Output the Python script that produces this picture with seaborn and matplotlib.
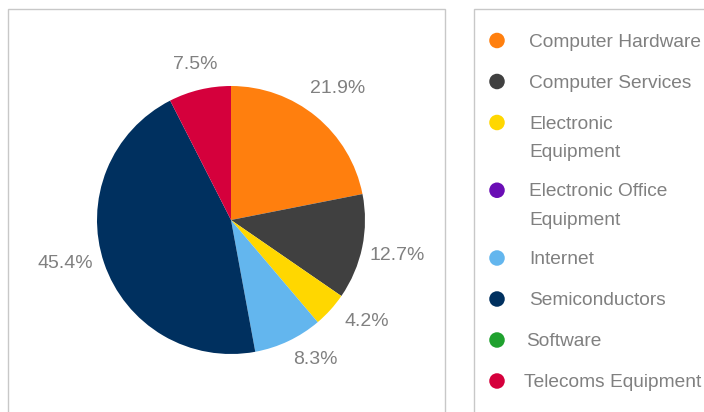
import matplotlib
matplotlib.use("Agg")
import matplotlib.pyplot as plt
from matplotlib.patches import Rectangle
import seaborn as sns

# Sector breakdown (% of total)
sectors = [
    "Computer Hardware",
    "Computer Services",
    "Electronic Equipment",
    "Electronic Office Equipment",
    "Internet",
    "Semiconductors",
    "Software",
    "Telecoms Equipment",
]
legend_labels = [
    ["Computer Hardware"],
    ["Computer Services"],
    ["Electronic", "Equipment"],
    ["Electronic Office", "Equipment"],
    ["Internet"],
    ["Semiconductors"],
    ["Software"],
    ["Telecoms Equipment"],
]
shares = [21.9, 12.7, 4.2, 0.0, 8.3, 45.4, 0.0, 7.5]
sector_colors = ["#FF7F0E", "#404040", "#FFD700", "#6A0DB5",
                 "#63B6EE", "#00305F", "#1FA12E", "#D5003C"]

# Best-fit nudges for the percentage labels (pixels, right / down)
label_nudge = [(-1, -0.5), (0, 0.5), (10, -12.5), (0, 0), (11, -14.5), (-5, -11.5), (0, 0), (4, 9.5)]
# Legend text indents
legend_text_x = [529, 529, 529, 529, 529, 529, 526, 524]

sns.set_theme(style="white")
plt.rcParams["font.family"] = ["Liberation Sans", "DejaVu Sans"]
palette = sns.color_palette(sector_colors)

W, H = 704, 412
fig = plt.figure(figsize=(W / 100, H / 100), dpi=100)
fig.patch.set_facecolor("white")

text_gray = "#808080"
border = "#C8C8C8"

# Panel frames
fig.patches.append(Rectangle((8 / W, -0.05), (445 - 8) / W, (H - 9) / H + 0.05,
                             transform=fig.transFigure, fill=False,
                             edgecolor=border, linewidth=1.0))
fig.patches.append(Rectangle((474 / W, -0.05), 0.5, (H - 9) / H + 0.05,
                             transform=fig.transFigure, fill=False,
                             edgecolor=border, linewidth=1.0))

# Pie
cx, cy, r = 231, 220, 134
ax = fig.add_axes([(cx - r) / W, (H - cy - r) / H, 2 * r / W, 2 * r / H])

wedges, _, autotexts = ax.pie(
    shares,
    colors=palette,
    startangle=90,
    counterclock=False,
    radius=1.0,
    autopct=lambda p: f"{p:.1f}%" if p > 0.05 else "",
    pctdistance=1.27,
    wedgeprops=dict(linewidth=0),
    textprops=dict(color=text_gray, fontsize=14),
)
for t, (dx, dy) in zip(autotexts, label_nudge):
    x, y = t.get_position()
    t.set_position((x + dx / r, y - dy / r))
    t.set_ha("center")
    t.set_va("center")
ax.set_xlim(-1, 1)
ax.set_ylim(-1, 1)
ax.set_aspect("equal")
ax.axis("off")

# Legend panel
lax = fig.add_axes([0, 0, 1, 1])
lax.set_xlim(0, W)
lax.set_ylim(H, 0)
lax.axis("off")
lax.patch.set_alpha(0)

row_pitch = 41
line_pitch = 28.5
extra_line = 26.75
y = 40.5
for lines, col, tx in zip(legend_labels, palette, legend_text_x):
    lax.scatter([497], [y], s=125, color=col, edgecolors="none")
    for j, line in enumerate(lines):
        lax.text(tx, y + 1.5 + j * line_pitch, line, color=text_gray,
                 fontsize=13.8, ha="left", va="center")
    y += row_pitch + extra_line * (len(lines) - 1)

fig.savefig("out.png", dpi=100, facecolor="white")
